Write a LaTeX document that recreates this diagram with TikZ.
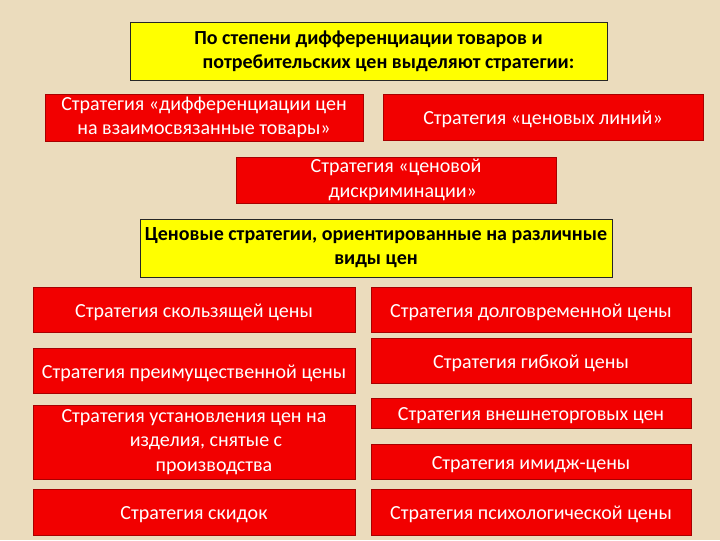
\documentclass[tikz,border=0pt]{standalone}
\usepackage{fontspec}
\setmainfont{Carlito}
\usepackage{xcolor}
\usetikzlibrary{positioning}
\definecolor{parch}{HTML}{EBDCBD}
\definecolor{hilite}{HTML}{FFFF00}
\definecolor{strat}{HTML}{F20000}
\definecolor{stratedge}{HTML}{A80000}

\begin{document}
\begin{tikzpicture}[
  x=0.75pt, y=-0.75pt,
  head/.style={draw=black!85, line width=0.6pt, fill=hilite, text=black,
    font=\fontsize{15}{18}\selectfont\bfseries, align=center, inner sep=0pt},
  strategy/.style={draw=stratedge, line width=0.5pt, fill=strat, text=white,
    font=\fontsize{15}{18.5}\selectfont, align=center, inner sep=0pt,
    execute at begin node={\rule{0pt}{14pt}}}
]
\useasboundingbox (0,0) rectangle (720,540);
\fill[parch] (0,0) rectangle (720,540);

\node[head, minimum width=477*0.75pt, minimum height=58*0.75pt] (degree) at (368.5,51)
  {По степени дифференциации товаров и\\ \hspace*{30pt}потребительских цен выделяют стратегии:};
\node[strategy, minimum width=318*0.75pt, minimum height=47*0.75pt] (related) at (204,117.5)
  {Стратегия «дифференциации цен\\ на взаимосвязанные товары»};
\node[strategy, minimum width=320*0.75pt, minimum height=46*0.75pt] (lines) at (543,117)
  {Стратегия «ценовых линий»};
\node[strategy, minimum width=320*0.75pt, minimum height=46*0.75pt] (discrim) at (396,180)
  {Стратегия «ценовой\\ \hspace*{10pt}дискриминации»};
\node[head, minimum width=472*0.75pt, minimum height=58*0.75pt] (kinds) at (376,248)
  {Ценовые стратегии, ориентированные на различные\\ виды цен};

\node[strategy, minimum width=322*0.75pt, minimum height=45*0.75pt] (sliding) at (194,309.5)
  {Стратегия скользящей цены};
\node[strategy, minimum width=322*0.75pt, minimum height=45*0.75pt] (prefer) at (194,370.5)
  {Стратегия преимущественной цены};
\node[strategy, minimum width=322*0.75pt, minimum height=74*0.75pt] (retired) at (194,442)
  {Стратегия установления цен на\\ \hspace*{18pt}изделия, снятые с\\ \hspace*{30pt}производства};
\node[strategy, minimum width=322*0.75pt, minimum height=46*0.75pt] (rebate) at (194,512)
  {Стратегия скидок};

\node[strategy, minimum width=320*0.75pt, minimum height=45*0.75pt] (longterm) at (531,309.5)
  {Стратегия долговременной цены};
\node[strategy, minimum width=320*0.75pt, minimum height=45*0.75pt] (flexible) at (531,360.5)
  {Стратегия гибкой цены};
\node[strategy, minimum width=320*0.75pt, minimum height=30*0.75pt] (foreign) at (531,413)
  {Стратегия внешнеторговых цен};
\node[strategy, minimum width=320*0.75pt, minimum height=35*0.75pt] (image) at (531,461.5)
  {Стратегия имидж-цены};
\node[strategy, minimum width=320*0.75pt, minimum height=46*0.75pt] (psycho) at (531,512)
  {Стратегия психологической цены};
\end{tikzpicture}
\end{document}
